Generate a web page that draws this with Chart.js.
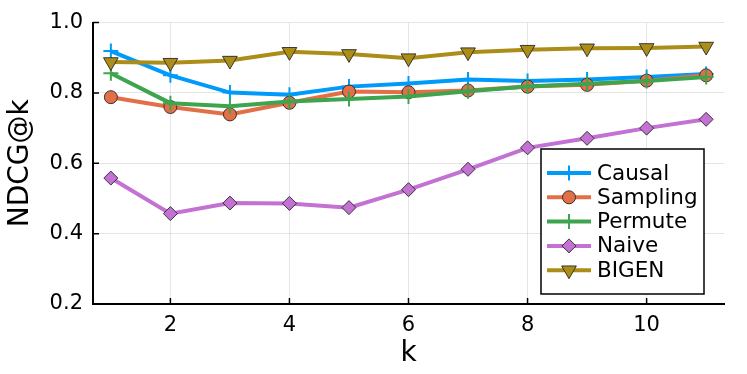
<!DOCTYPE html>
<html>
<head>
<meta charset="utf-8">
<script src="https://cdn.jsdelivr.net/npm/chart.js@4"></script>
<style>
  html, body { margin: 0; padding: 0; background: #fff; }
</style>
</head>
<body>
<canvas id="myChart" width="747" height="374"></canvas>
<script>
// values
const kValues = [1, 2, 3, 4, 5, 6, 7, 8, 9, 10, 11];
const causal   = [0.919, 0.850, 0.801, 0.795, 0.818, 0.827, 0.838, 0.834, 0.838, 0.845, 0.854];
const sampling = [0.788, 0.760, 0.739, 0.772, 0.804, 0.802, 0.807, 0.818, 0.823, 0.835, 0.850];
const permute  = [0.856, 0.771, 0.762, 0.776, 0.783, 0.790, 0.805, 0.818, 0.826, 0.834, 0.845];
const naive    = [0.558, 0.457, 0.487, 0.486, 0.474, 0.525, 0.583, 0.644, 0.671, 0.700, 0.725];
const bigen    = [0.888, 0.886, 0.892, 0.917, 0.911, 0.899, 0.916, 0.923, 0.927, 0.928, 0.932];
const xTicks = [2, 4, 6, 8, 10];
const yTicks = [0.2, 0.4, 0.6, 0.8, 1.0];

const FONT = "'DejaVu Sans', sans-serif";
const EDGE = 'rgba(40,40,40,0.9)';

function series(label, values, color, style, radius, drawOrder) {
    const filled = style !== 'cross';
    return {
        label: label,
        data: values.map((v, i) => ({ x: kValues[i], y: v })),
        borderColor: color,
        borderWidth: 4,
        pointStyle: style,
        pointRadius: radius,
        pointRotation: style === 'triangle' ? 180 : 0,
        pointBackgroundColor: color,
        pointBorderColor: filled ? EDGE : color,
        pointBorderWidth: filled ? 1 : 2,
        tension: 0,
        order: drawOrder
    };
}

const datasets = [
    series('Causal', causal, '#009AFA', 'cross', 7.5, 5),
    series('Sampling', sampling, '#E36F47', 'circle', 6.5, 4),
    series('Permute', permute, '#3EA44E', 'cross', 7.5, 3),
    series('Naive', naive, '#C371D2', 'rectRot', 7, 2),
    series('BIGEN', bigen, '#AC8D18', 'triangle', 8.5, 1)
];

// inward tick marks like the original plot
const innerTicks = {
    id: 'innerTicks',
    beforeDatasetsDraw(chart) {
        const ctx = chart.ctx;
        const xs = chart.scales.x, ys = chart.scales.y;
        const area = chart.chartArea;
        ctx.save();
        ctx.strokeStyle = '#000';
        ctx.lineWidth = 1.5;
        ctx.beginPath();
        yTicks.forEach(v => {
            const py = ys.getPixelForValue(v);
            ctx.moveTo(area.left, py);
            ctx.lineTo(area.left + 6, py);
        });
        xTicks.forEach(v => {
            const px = xs.getPixelForValue(v);
            ctx.moveTo(px, area.bottom);
            ctx.lineTo(px, area.bottom - 6);
        });
        ctx.stroke();
        ctx.restore();
    }
};

// legend box in the lower right corner of the plot
const boxLegend = {
    id: 'boxLegend',
    afterDraw(chart) {
        const ctx = chart.ctx;
        const area = chart.chartArea;
        const rowH = 24.3;
        const w = 163, h = 145;
        const left = area.right - 20 - w;
        const top = area.bottom - 10 - h;
        ctx.save();
        ctx.fillStyle = '#fff';
        ctx.fillRect(left, top, w, h);
        ctx.strokeStyle = '#000';
        ctx.lineWidth = 1.5;
        ctx.strokeRect(left, top, w, h);
        ctx.font = '21.5px ' + FONT;
        ctx.textBaseline = 'middle';
        chart.data.datasets.forEach((ds, i) => {
            const y = top + 24 + i * rowH;
            ctx.strokeStyle = ds.borderColor;
            ctx.lineWidth = 4;
            ctx.beginPath();
            ctx.moveTo(left + 6, y);
            ctx.lineTo(left + 50, y);
            ctx.stroke();
            ctx.fillStyle = ds.pointBackgroundColor;
            ctx.strokeStyle = ds.pointBorderColor;
            ctx.lineWidth = ds.pointBorderWidth;
            Chart.helpers.drawPoint(ctx, {
                pointStyle: ds.pointStyle,
                radius: ds.pointRadius,
                rotation: ds.pointRotation,
                borderWidth: ds.pointBorderWidth
            }, left + 28, y);
            ctx.fillStyle = '#000';
            ctx.fillText(ds.label, left + 56, y + 1);
        });
        ctx.restore();
    }
};

const ctx = document.getElementById('myChart').getContext('2d');
const myChart = new Chart(ctx, {
    type: 'line',
    data: { datasets: datasets },
    options: {
        responsive: false,
        animation: false,
        devicePixelRatio: 1,
        layout: { padding: { left: 0, top: 22, right: 23, bottom: 0 } },
        plugins: {
            legend: { display: false },
            tooltip: { enabled: false }
        },
        scales: {
            x: {
                type: 'linear',
                min: 0.7,
                max: 11.3,
                afterBuildTicks: s => { s.ticks = xTicks.map(v => ({ value: v })); },
                afterFit: s => { s.height = 70; },
                grid: { color: 'rgba(0,0,0,0.1)', lineWidth: 1, drawTicks: false },
                border: { display: true, color: '#000', width: 2 },
                ticks: { color: '#000', font: { family: FONT, size: 21 }, padding: 9, maxRotation: 0 },
                title: { display: true, text: 'k', color: '#000', font: { family: FONT, size: 28 }, padding: { top: 0, bottom: 3 } }
            },
            y: {
                type: 'linear',
                min: 0.2,
                max: 1.0,
                afterBuildTicks: s => { s.ticks = yTicks.map(v => ({ value: v })); },
                afterFit: s => { s.width = 93; },
                grid: { color: 'rgba(0,0,0,0.1)', lineWidth: 1, drawTicks: false },
                border: { display: true, color: '#000', width: 2 },
                ticks: { color: '#000', font: { family: FONT, size: 21 }, padding: 10, callback: v => v.toFixed(1) },
                title: { display: true, text: 'NDCG@k', color: '#000', font: { family: FONT, size: 28 }, padding: { top: 4, bottom: 0 } }
            }
        }
    },
    plugins: [innerTicks, boxLegend]
});
</script>
</body>
</html>
